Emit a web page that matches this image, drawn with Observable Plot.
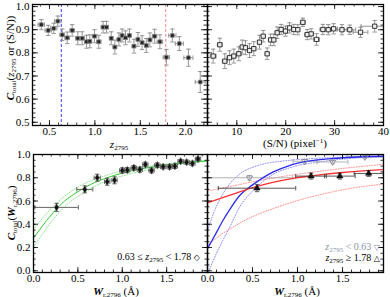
<!DOCTYPE html>
<html><head><meta charset="utf-8">
<script src="https://cdn.jsdelivr.net/npm/d3@7"></script>
<script src="https://cdn.jsdelivr.net/npm/@observablehq/plot@0.6"></script>
<style>
body{margin:0;background:#fff;}
#wrap{position:relative;width:390px;height:297px;overflow:hidden;font-family:"Liberation Serif","Times New Roman",serif;color:#000;}
.p{position:absolute;}
.lab{position:absolute;font-size:11px;white-space:nowrap;transform:translate(-50%,-50%);line-height:1;}
.rot{transform:translate(-50%,-50%) rotate(-90deg);}
.leg{position:absolute;font-size:10px;white-space:nowrap;transform:translateY(-50%);line-height:1;text-align:right;}
.s{font-size:7px;position:relative;top:2px;}
.sup{font-size:7px;position:relative;top:-4px;}
</style></head><body><div id="wrap"></div>
<script>
// ---------- data: top-left, completeness vs z2796 ----------
const zVals=[0.41,0.486,0.547,0.592,0.64,0.695,0.75,0.812,0.86,0.908,0.944,0.996,1.043,1.09,1.128,1.18,1.22,1.264,1.30,1.337,1.38,1.43,1.474,1.52,1.566,1.606,1.658,1.716,1.787,1.853,1.93,2.03,2.16];
const zC=[0.922,0.897,0.906,0.937,0.878,0.865,0.897,0.863,0.863,0.848,0.85,0.872,0.848,0.911,0.911,0.863,0.825,0.858,0.875,0.865,0.875,0.829,0.858,0.844,0.832,0.856,0.872,0.848,0.781,0.875,0.84,0.779,0.674];
const zCerr=[0.022,0.022,0.022,0.022,0.025,0.025,0.025,0.028,0.028,0.028,0.028,0.028,0.028,0.025,0.025,0.028,0.03,0.028,0.028,0.03,0.028,0.03,0.03,0.03,0.03,0.03,0.03,0.03,0.034,0.028,0.03,0.037,0.045];
const zXerr=[0.035,0.035,0.035,0.035,0.025,0.025,0.025,0.025,0.025,0.02,0.02,0.025,0.025,0.02,0.02,0.02,0.02,0.02,0.02,0.02,0.02,0.02,0.02,0.02,0.02,0.02,0.025,0.03,0.035,0.04,0.045,0.05,0.055];
const zCuts=[0.63,1.78];
// ---------- data: top-right, completeness vs S/N ----------
const snVals=[5.17,6.52,7.54,8.5,9.38,10.4,11.1,11.77,12.6,13.47,14.63,15.4,16.2,16.9,17.56,18.25,19.07,19.95,20.77,21.65,22.47,23.5,24.4,25.2,26.3,27.6,28.7,29.8,31.5,33.1,35.3,38.2];
const snC=[0.786,0.835,0.764,0.779,0.786,0.796,0.825,0.822,0.81,0.818,0.846,0.872,0.796,0.856,0.856,0.887,0.901,0.894,0.908,0.901,0.9,0.932,0.879,0.882,0.858,0.901,0.9,0.904,0.9,0.9,0.889,0.915];
const snCerr=[0.03,0.028,0.032,0.03,0.03,0.03,0.03,0.03,0.03,0.03,0.03,0.025,0.025,0.025,0.025,0.025,0.022,0.022,0.022,0.022,0.022,0.018,0.022,0.022,0.025,0.022,0.022,0.022,0.022,0.02,0.022,0.025];
const snXerr=[0.6,0.5,0.5,0.5,0.5,0.5,0.4,0.4,0.4,0.4,0.4,0.4,0.4,0.4,0.4,0.4,0.4,0.4,0.4,0.4,0.4,0.5,0.5,0.5,0.6,0.6,0.7,0.8,1.0,1.2,1.5,2.8];
// ---------- data: bottom-left, completeness vs W (0.63<=z<1.78) ----------
const wVals=[0.26,0.578,0.718,0.83,0.913,1.0,1.056,1.13,1.198,1.26,1.33,1.395,1.46,1.533,1.593,1.657,1.725,1.79,1.853];
const wC=[0.545,0.70,0.80,0.766,0.778,0.863,0.866,0.885,0.87,0.914,0.863,0.908,0.894,0.894,0.9,0.942,0.934,0.923,0.962];
const wCerr=[0.035,0.03,0.03,0.03,0.03,0.022,0.022,0.02,0.022,0.02,0.022,0.02,0.018,0.02,0.02,0.015,0.018,0.02,0.015];
const wXerr=[0.245,0.09,0.035,0.03,0.03,0.03,0.03,0.03,0.03,0.03,0.03,0.03,0.03,0.03,0.03,0.03,0.03,0.03,0.03];
const gFitX=[0,0.1,0.2,0.3,0.4,0.5,0.6,0.7,0.8,0.9,1.0,1.2,1.4,1.6,1.8,1.96];
const gFit=[0.28,0.385,0.48,0.565,0.63,0.68,0.725,0.762,0.792,0.818,0.84,0.875,0.9,0.92,0.935,0.945];
const gHi=[0.35,0.45,0.535,0.61,0.67,0.72,0.76,0.79,0.815,0.84,0.86,0.89,0.91,0.928,0.94,0.948];
const gLo=[0.20,0.315,0.42,0.51,0.585,0.64,0.685,0.73,0.765,0.795,0.815,0.855,0.885,0.91,0.93,0.942];
// ---------- data: bottom-right, low-z (gray) and high-z (black) ----------
const loW=[0.467,1.08,1.39,1.75];
const loC=[0.80,0.942,0.936,0.979];
const loXerr=[0.48,0.13,0.17,0.2];
const loCerr=[0.02,0.015,0.015,0.012];
const hiW=[0.55,1.15,1.47,1.79];
const hiC=[0.71,0.814,0.814,0.837];
const hiXerr=[0.43,0.17,0.17,0.16];
const hiCerr=[0.03,0.025,0.025,0.025];
const bFitX=[0,0.1,0.17,0.25,0.355,0.45,0.54,0.73,0.91,1.1,1.47,1.95];
const bFit=[0.19,0.33,0.43,0.53,0.645,0.71,0.76,0.85,0.905,0.94,0.97,0.985];
const bHiX=[0,0.08,0.17,0.25,0.355,0.54,0.91,1.3,1.95];
const bHi=[0.346,0.52,0.66,0.75,0.83,0.9,0.95,0.97,0.985];
const bLoX=[0,0.1,0.17,0.25,0.355,0.54,0.73,0.91,1.28,1.95];
const bLo=[-0.03,0.15,0.26,0.38,0.545,0.715,0.83,0.885,0.94,0.98];
const rFitX=[0,0.25,0.485,0.7,0.95,1.2,1.5,1.95];
const rFit=[0.585,0.65,0.71,0.755,0.795,0.82,0.845,0.87];
const rHiX=[0,0.25,0.5,0.75,1.0,1.5,1.95];
const rHi=[0.685,0.725,0.765,0.80,0.83,0.88,0.915];
const rLoX=[0,0.13,0.25,0.485,0.75,0.985,1.28,1.6,1.95];
const rLo=[0.22,0.30,0.36,0.46,0.54,0.60,0.66,0.71,0.745];
// ---------- tick labels ----------
const zTicks=[0.5,1.0,1.5,2.0];
const snTicks=[10,20,30,40];
const cTopTicks=[0.5,0.6,0.7,0.8,0.9,1.0];
const wTicks=[0.0,0.5,1.0,1.5];
const cBotTicks=[0.0,0.2,0.4,0.6,0.8,1.0];

const FONT='"Liberation Serif","Times New Roman",serif';
const rows=(xs,ys,exs,eys)=>xs.map((x,i)=>({x,y:ys[i],ex:exs?exs[i]:0,ey:eys?eys[i]:0}));
const pts=(xs,ys)=>xs.map((x,i)=>({x,y:ys[i]}));
const hCap={draw(c,s){const r=Math.sqrt(s/Math.PI);c.moveTo(-r,0);c.lineTo(r,0);}};
const vCap={draw(c,s){const r=Math.sqrt(s/Math.PI);c.moveTo(0,-r);c.lineTo(0,r);}};

function errMarks(data,color,cap=2,sw=0.9){
  const o={stroke:color,strokeWidth:sw,clip:true};
  return [
    Plot.ruleX(data,{x:"x",y1:d=>d.y-d.ey,y2:d=>d.y+d.ey,...o}),
    Plot.ruleY(data,{y:"y",x1:d=>d.x-d.ex,x2:d=>d.x+d.ex,...o}),
    Plot.dot(data,{x:"x",y:d=>d.y-d.ey,symbol:hCap,r:cap,fill:"none",...o}),
    Plot.dot(data,{x:"x",y:d=>d.y+d.ey,symbol:hCap,r:cap,fill:"none",...o}),
    Plot.dot(data,{x:d=>d.x-d.ex,y:"y",symbol:vCap,r:cap,fill:"none",...o}),
    Plot.dot(data,{x:d=>d.x+d.ex,y:"y",symbol:vCap,r:cap,fill:"none",...o})
  ];
}
function frameTicks(xMaj,xMin,yMaj,yMin,W,H){
  const L=5,l=2.5,o={stroke:"#000",strokeWidth:0.8};
  return [
    Plot.tickX(xMaj,{x:d=>d,insetTop:H-L,...o}),
    Plot.tickX(xMaj,{x:d=>d,insetBottom:H-L,...o}),
    Plot.tickX(xMin,{x:d=>d,insetTop:H-l,...o}),
    Plot.tickX(xMin,{x:d=>d,insetBottom:H-l,...o}),
    Plot.tickY(yMaj,{y:d=>d,insetRight:W-L,...o}),
    Plot.tickY(yMaj,{y:d=>d,insetLeft:W-L,...o}),
    Plot.tickY(yMin,{y:d=>d,insetRight:W-l,...o}),
    Plot.tickY(yMin,{y:d=>d,insetLeft:W-l,...o})
  ];
}
const style={fontFamily:FONT,fontSize:"11px",background:"transparent",overflow:"visible",color:"#000"};
const axX=(t,fmt)=>Plot.axisX(t,{tickSize:0,tickPadding:2,tickFormat:fmt,label:null,fontSize:11,fontFamily:FONT});
const axY=(t,fmt)=>Plot.axisY(t,{tickSize:0,tickPadding:3,tickFormat:fmt,label:null,fontSize:11,fontFamily:FONT});
const f1=d3.format(".1f");
const wrap=document.getElementById("wrap");
function place(svg,left,top){svg.classList.add("p");svg.style.left=left+"px";svg.style.top=top+"px";wrap.appendChild(svg);}

const minZ=d3.range(0.4,2.241,0.1), minCtop=d3.range(0.5,1.009,0.02);
const minSN=d3.range(4,40.01,2), minW=d3.range(0,1.96,0.1), minCbot=d3.range(0,1.001,0.05);
const dot={strokeDasharray:"1,1.6",strokeWidth:1,curve:"monotone-x",clip:true};

// ---- top-left ----
place(Plot.plot({
  width:208,height:150,marginLeft:32,marginRight:1,marginTop:4,marginBottom:25,
  x:{domain:[0.313,2.24]},y:{domain:[0.486,1.009]},style,
  marks:[
    Plot.ruleX([zCuts[0]],{x:d=>d,stroke:"#3344ff",strokeDasharray:"3,2",strokeWidth:1}),
    Plot.ruleX([zCuts[1]],{x:d=>d,stroke:"#ff8a8a",strokeDasharray:"3,2",strokeWidth:1}),
    ...errMarks(rows(zVals,zC,zXerr,zCerr),"#8a8a8a",2.2),
    Plot.dot(rows(zVals,zC),{x:"x",y:"y",symbol:"square",r:2.1,fill:"#222",stroke:"#888",strokeWidth:0.8}),
    ...frameTicks(zTicks,minZ,cTopTicks,minCtop,174,121),
    Plot.frame({stroke:"#000",strokeWidth:1.3}),
    axX(zTicks,f1),axY(cTopTicks,f1)
  ]
}),0,0);

// ---- top-right ----
place(Plot.plot({
  width:190,height:150,marginLeft:7,marginRight:7,marginTop:4,marginBottom:25,
  x:{domain:[4,40]},y:{domain:[0.486,1.009],axis:null},style,
  marks:[
    ...errMarks(rows(snVals,snC,snXerr,snCerr),"#8a8a8a",2.2),
    Plot.dot(rows(snVals,snC),{x:"x",y:"y",symbol:"square",r:2.4,fill:"#eee",stroke:"#222",strokeWidth:0.9}),
    ...frameTicks(snTicks,minSN,cTopTicks,minCtop,176,121),
    Plot.frame({stroke:"#000",strokeWidth:1.3}),
    axX(snTicks,d3.format("d"))
  ]
}),200,0);

// ---- bottom-left ----
place(Plot.plot({
  width:208,height:157,marginLeft:33,marginRight:1,marginTop:14,marginBottom:25,
  x:{domain:[0,1.96]},y:{domain:[-0.015,1.0]},style,
  marks:[
    Plot.line(pts(gFitX,gHi),{x:"x",y:"y",stroke:"#8fe88f",...dot}),
    Plot.line(pts(gFitX,gLo),{x:"x",y:"y",stroke:"#8fe88f",...dot}),
    Plot.line(pts(gFitX,gFit),{x:"x",y:"y",stroke:"#33cc33",strokeWidth:1,curve:"monotone-x",clip:true}),
    ...errMarks(rows(wVals,wC,wXerr,wCerr),"#555",2.2),
    Plot.dot(rows(wVals,wC),{x:"x",y:"y",symbol:"diamond",r:2.3,fill:"#111",stroke:"#666",strokeWidth:0.5,clip:true}),
    ...frameTicks(wTicks,minW,cBotTicks,minCbot,174,118),
    Plot.frame({stroke:"#000",strokeWidth:1.3}),
    axX(wTicks,f1),axY(cBotTicks,f1)
  ]
}),0,140);

// ---- bottom-right ----
place(Plot.plot({
  width:190,height:157,marginLeft:7,marginRight:7,marginTop:14,marginBottom:25,
  x:{domain:[0,1.955]},y:{domain:[-0.015,1.0],axis:null},style,
  marks:[
    Plot.line(pts(bHiX,bHi),{x:"x",y:"y",stroke:"#8c8cff",...dot}),
    Plot.line(pts(bLoX,bLo),{x:"x",y:"y",stroke:"#8c8cff",...dot}),
    Plot.line(pts(rHiX,rHi),{x:"x",y:"y",stroke:"#ff8c8c",...dot}),
    Plot.line(pts(rLoX,rLo),{x:"x",y:"y",stroke:"#ff8c8c",...dot}),
    ...errMarks(rows(loW,loC,loXerr,loCerr),"#aaaaaa",2.2),
    Plot.line(pts(bFitX,bFit),{x:"x",y:"y",stroke:"#2b2bee",strokeWidth:1.3,curve:"monotone-x",clip:true}),
    Plot.line(pts(rFitX,rFit),{x:"x",y:"y",stroke:"#ff3030",strokeWidth:1.3,curve:"monotone-x",clip:true}),
    ...errMarks(rows(hiW,hiC,hiXerr,hiCerr),"#444",2.2),
    Plot.dot(rows(loW,loC),{x:"x",y:"y",symbol:"triangle",rotate:180,r:2.3,fill:"none",stroke:"#8a8a9a",strokeWidth:0.9}),
    Plot.dot(rows(hiW,hiC),{x:"x",y:"y",symbol:"triangle",r:2.3,fill:"#111",stroke:"#111",strokeWidth:0.6}),
    ...frameTicks(wTicks,minW,cBotTicks,minCbot,176,118),
    Plot.frame({stroke:"#000",strokeWidth:1.3}),
    axX(wTicks,f1)
  ]
}),200,140);

// ---- text labels ----
function lab(html,x,y,cls){const d=document.createElement("div");d.className=cls;d.innerHTML=html;d.style.left=x+"px";d.style.top=y+"px";wrap.appendChild(d);return d;}
lab('<b><i>C</i></b><span class="s">total</span>(<i>z</i><span class="s">2795</span> or (S/N))',10,58,"lab rot");
lab('<i>z</i><span class="s">2795</span>',119,144,"lab");
lab('(S/N) (pixel<span class="sup">−1</span>)',295,143,"lab");
lab('<b><i>C</i></b><span class="s">total</span>(<b><i>W</i></b><span class="s">r,2796</span>)',11,213,"lab rot");
lab('<b><i>W</i></b><span class="s">r,2796</span> (Å)',116,291,"lab");
lab('<b><i>W</i></b><span class="s">r,2796</span> (Å)',297,291,"lab");
function leg(html,right,y,color){const d=document.createElement("div");d.className="leg";d.innerHTML=html;d.style.right=(390-right)+"px";d.style.top=y+"px";d.style.color=color;wrap.appendChild(d);}
leg('0.63 ≤ <i>z</i><span class="s">2795</span> &lt; 1.78 <span style="font-family:DejaVu Sans;font-size:8px;font-weight:bold">◇</span>',200,257,"#000");
leg('<i>z</i><span class="s">2795</span> &lt; 0.63 <span style="font-family:DejaVu Sans;font-size:8px">▽</span>',380,246.5,"#8a94aa");
leg('<i>z</i><span class="s">2795</span> ≥ 1.78 <span style="font-family:DejaVu Sans;font-size:8px;font-weight:bold">△</span>',380,258,"#000");
</script></body></html>
